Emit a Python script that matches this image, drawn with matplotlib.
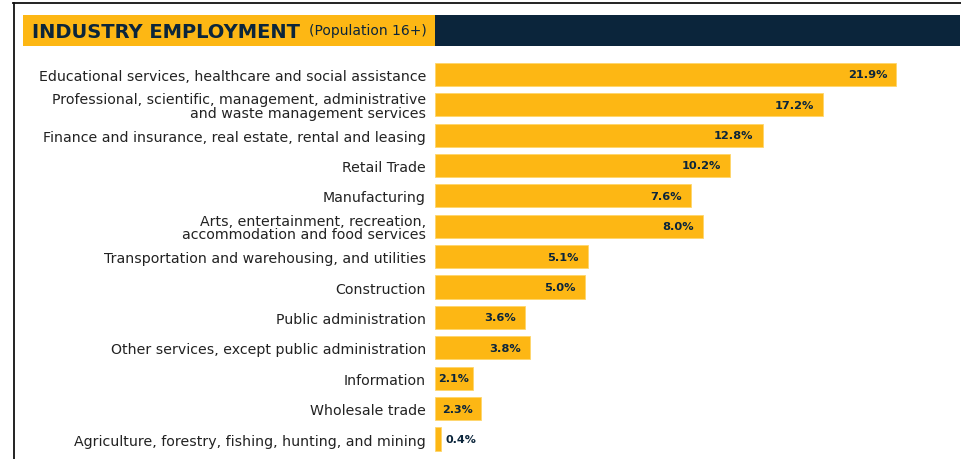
import matplotlib.pyplot as plt
from matplotlib.patches import Rectangle
from matplotlib.lines import Line2D

# industries, top to bottom
industries = [
    'Educational services, healthcare and social assistance',
    'Professional, scientific, management, administrative\nand waste management services',
    'Finance and insurance, real estate, rental and leasing',
    'Retail Trade',
    'Manufacturing',
    'Arts, entertainment, recreation,\naccommodation and food services',
    'Transportation and warehousing, and utilities',
    'Construction',
    'Public administration',
    'Other services, except public administration',
    'Information',
    'Wholesale trade',
    'Agriculture, forestry, fishing, hunting, and mining',
]
# printed shares
shares = ['21.9%', '17.2%', '12.8%', '10.2%', '7.6%', '8.0%', '5.1%',
          '5.0%', '3.6%', '3.8%', '2.1%', '2.3%', '0.4%']
# bar lengths as drawn in the infographic (not proportional to the shares)
bar_len = [21.9, 18.4, 15.55, 14.0, 12.15, 12.7, 7.26, 7.1, 4.29, 4.5, 1.8, 2.18, 0.3]

yellow = '#FDB714'
navy = '#0B253B'
W, H = 961, 460

fig = plt.figure(figsize=(W / 100, H / 100), dpi=100)
fig.patch.set_facecolor('white')

# frame lines top and left
fig.add_artist(Line2D([13 / W, 1], [1 - 3.5 / H, 1 - 3.5 / H], color='#111111', lw=1.3))
fig.add_artist(Line2D([13.5 / W, 13.5 / W], [0, 1 - 3.5 / H], color='#111111', lw=1.3))

# header band
fig.add_artist(Rectangle((23 / W, 1 - 47 / H), (435 - 23) / W, 31 / H,
                         transform=fig.transFigure, color=yellow, lw=0))
fig.add_artist(Rectangle((435 / W, 1 - 47 / H), (960 - 435) / W, 31 / H,
                         transform=fig.transFigure, color=navy, lw=0))
fig.text(32 / W, 1 - 32 / H, 'INDUSTRY EMPLOYMENT', color=navy,
         fontsize=14, fontweight='bold', va='center', ha='left')
fig.text(309 / W, 1 - 31.5 / H, '(Population 16+)', color=navy,
         fontsize=10, va='center', ha='left')

# bar axes
top_px, bot_px = 60.1, 455.2
ax = fig.add_axes([435 / W, 1 - bot_px / H, (W - 435) / W, (bot_px - top_px) / H])
px_per_unit = 21.07
ax.set_xlim(0, (W - 435) / px_per_unit)
ax.set_ylim(len(industries) - 0.5, -0.5)

ypos = list(range(len(industries)))
ax.barh(ypos, bar_len, height=0.76, color=yellow, edgecolor='#FFD66B', linewidth=0.6)

for y, v, s in zip(ypos, bar_len, shares):
    if v < 1:
        ax.annotate(s, (v, y), xytext=(4, 0), textcoords='offset pixels',
                    ha='left', va='center', fontsize=8, fontweight='bold', color=navy)
    elif v < 3:
        ax.annotate(s, (v / 2, y), ha='center', va='center', fontsize=8,
                    fontweight='bold', color=navy)
    else:
        ax.annotate(s, (v, y), xytext=(-9, 0), textcoords='offset pixels',
                    ha='right', va='center', fontsize=8.2, fontweight='bold', color=navy)

ax.set_yticks(ypos)
ax.set_yticklabels(industries, fontsize=10.2, color='#222222', linespacing=0.95)
ax.tick_params(axis='y', length=0, pad=6.5)
ax.set_xticks([])
for sp in ax.spines.values():
    sp.set_visible(False)

fig.savefig('out.png', dpi=100)
